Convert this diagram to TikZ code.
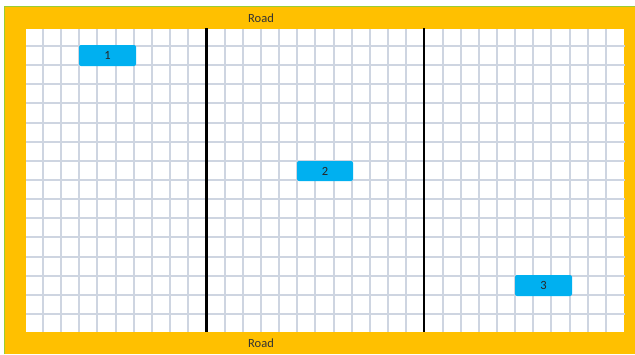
\documentclass[tikz,border=0pt]{standalone}
\usepackage{fontspec}
\setmainfont{Carlito}
\definecolor{roadorange}{HTML}{FFC000}
\definecolor{edgegreen}{HTML}{9ACD32}
\definecolor{gridgray}{HTML}{CED5E1}
\definecolor{plotcyan}{HTML}{00B0F0}
\begin{document}
\begin{tikzpicture}[
x=1pt, y=-1pt,
gridline/.style={draw=gridgray, line width=2pt},
fence/.style={draw=black, line width=2.4pt},
plot/.style={fill=plotcyan, rounded corners=2pt, minimum width=56pt, minimum height=20pt, inner sep=0pt, font=\fontsize{12.5}{12.5}\selectfont, text=black!85},
roadlabel/.style={font=\fontsize{12.5}{12.5}\selectfont, text=black!80, inner sep=0pt}
]
\useasboundingbox (0,0) rectangle (635,354);
% road border
\fill[roadorange] (4.5,6.5) rectangle (635,354);
\draw[edgegreen, line width=1pt] (4.5,354) -- (4.5,6.5) -- (635,6.5);
\fill[white] (26,29) rectangle (624,332);
% grid
\foreach \i in {0,...,14} {
	\draw[gridline] (26,46+\i*19.14) -- (625,46+\i*19.14);
}
\foreach \i in {0,...,31} {
	\draw[gridline] (43+\i*18.16,29) -- (43+\i*18.16,332);
}
% fences
\coordinate (fenceAtop) at (206.5,28);
\coordinate (fenceAbot) at (206.5,332);
\coordinate (fenceBtop) at (424,28);
\coordinate (fenceBbot) at (424,332);
\draw[fence] (fenceAtop) -- (fenceAbot);
\draw[fence] (fenceBtop) -- (fenceBbot);
% plots
\node[plot, minimum width=57pt, minimum height=21pt] (plot1) at (107.5,55.5) {1};
\node[plot] (plot2) at (325,171) {2};
\node[plot, minimum width=57pt, minimum height=21pt] (plot3) at (543.5,285.5) {3};
% roads
\node[roadlabel] (roadtop) at (261,18) {Road};
\node[roadlabel] (roadbot) at (261,343) {Road};
\end{tikzpicture}
\end{document}
